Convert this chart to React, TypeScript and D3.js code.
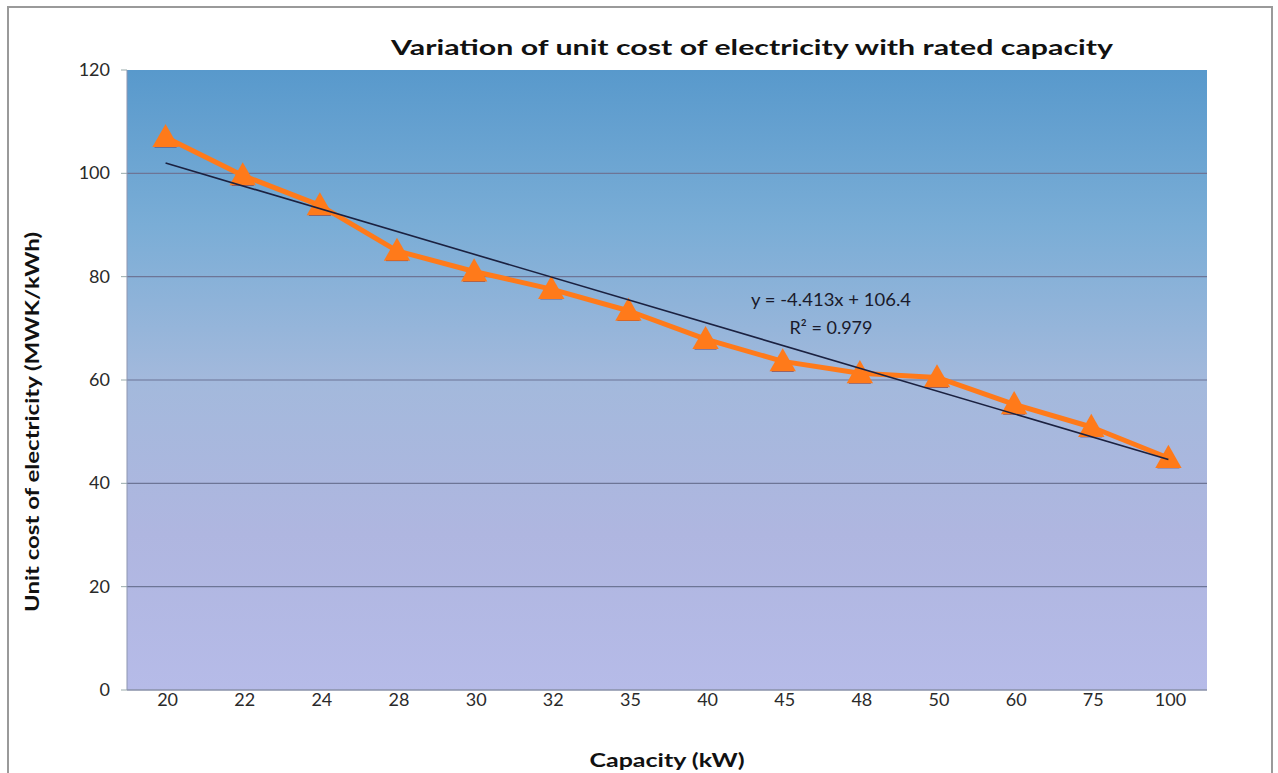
import React from "react";
import * as d3 from "d3";

const categories = ["20", "22", "24", "28", "30", "32", "35", "40", "45", "48", "50", "60", "75", "100"];
const unitCost = [107, 99.6, 93.8, 85, 81, 77.6, 73.4, 67.9, 63.6, 61.3, 60.5, 55.3, 50.9, 44.9];
const yTicks = [0, 20, 40, 60, 80, 100, 120];
const trendSlope = -4.413;
const trendIntercept = 106.4;
const title = "Variation of unit cost of electricity with rated capacity";
const xTitle = "Capacity (kW)";
const yTitle = "Unit cost of electricity (MWK/kWh)";
const eqLines = ["y = -4.413x + 106.4", "R² = 0.979"];

const W = 1278, H = 773;
const plot = { l: 127, r: 1207, t: 70, b: 690 };
const font = "Lato, 'Open Sans', sans-serif";

export default function App() {
  const x = d3.scaleBand<string>().domain(categories).range([plot.l, plot.r]);
  const cx = (c: string) => (x(c) as number) + x.bandwidth() / 2;
  const y = d3.scaleLinear().domain([0, 120]).range([plot.b, plot.t]);

  const line = d3.line<number>()
    .x((_, i) => cx(categories[i]))
    .y((d) => y(d));

  const t0 = trendSlope * 1 + trendIntercept;
  const tN = trendSlope * categories.length + trendIntercept;

  const tri = (px: number, py: number, s: number) =>
    `M${px},${py - s * 0.6} L${px + s * 0.6},${py + s * 0.45} L${px - s * 0.6},${py + s * 0.45} Z`;

  return (
    <svg width={W} height={H} style={{ position: "absolute", left: 0, top: 0, background: "#fff" }}>
      <defs>
        <linearGradient id="bg" x1="0" y1="0" x2="0" y2="1">
          <stop offset="0%" stopColor="#5899cc" />
          <stop offset="25%" stopColor="#7aadd6" />
          <stop offset="50%" stopColor="#a3b9dc" />
          <stop offset="75%" stopColor="#afb6e0" />
          <stop offset="100%" stopColor="#b6bbe8" />
        </linearGradient>
      </defs>
      <rect x={8} y={7} width={1264} height={780} fill="#fff" stroke="#9a9a9a" strokeWidth={2} />
      <rect x={plot.l} y={plot.t} width={plot.r - plot.l} height={plot.b - plot.t} fill="url(#bg)" />
      {yTicks.map((t) => (
        <g key={t}>
          {t > 0 && t < 120 && (
            <line x1={plot.l} x2={plot.r} y1={y(t)} y2={y(t)} stroke="#6d7596" strokeWidth={1.2} />
          )}
          <line x1={plot.l - 6} x2={plot.l} y1={y(t)} y2={y(t)} stroke="#9aa" strokeWidth={1} />
          <text x={110} y={y(t) + 6} textAnchor="end" fontFamily={font} fontSize={18} fill="#2a2a2a">{t}</text>
        </g>
      ))}
      <line x1={plot.l} x2={plot.r} y1={plot.b} y2={plot.b} stroke="#8890a8" strokeWidth={1.5} />
      <line x1={plot.l} x2={plot.l} y1={plot.t} y2={plot.b} stroke="#8d95b0" strokeWidth={1} />
      {categories.map((c) => (
        <text key={c} x={cx(c) + 2} y={706} textAnchor="middle" fontFamily={font} fontSize={18} fill="#2a2a2a">{c}</text>
      ))}
      <path d={line(unitCost) as string} fill="none" stroke="#ff7a1a" strokeWidth={5} strokeLinejoin="round" />
      {unitCost.map((v, i) => (
        <g key={i}>
          <line x1={cx(categories[i]) - 11} x2={cx(categories[i]) + 11} y1={y(v) + 9} y2={y(v) + 9} stroke="#5a2d55" strokeWidth={2.5} />
          <path d={tri(cx(categories[i]), y(v), 22)} fill="#ff7a1a" />
        </g>
      ))}
      <line x1={cx(categories[0])} x2={cx(categories[categories.length - 1])} y1={y(t0)} y2={y(tN)} stroke="#1b2140" strokeWidth={1.6} />
      <text x={831} y={306} textAnchor="middle" fontFamily={font} fontSize={18} fill="#1a1a2a" textLength={160} lengthAdjust="spacingAndGlyphs">{eqLines[0]}</text>
      <text x={831} y={334} textAnchor="middle" fontFamily={font} fontSize={18} fill="#1a1a2a">{eqLines[1]}</text>
      <text x={752} y={55} textAnchor="middle" fontFamily={font} fontWeight="bold" fontSize={21} fill="#111" textLength={722} lengthAdjust="spacingAndGlyphs">{title}</text>
      <text x={667} y={767} textAnchor="middle" fontFamily={font} fontWeight="bold" fontSize={18} fill="#111" textLength={155} lengthAdjust="spacingAndGlyphs">{xTitle}</text>
      <text transform="translate(39,422) rotate(-90)" textAnchor="middle" fontFamily={font} fontWeight="bold" fontSize={18} fill="#111" textLength={380} lengthAdjust="spacingAndGlyphs">{yTitle}</text>
    </svg>
  );
}
